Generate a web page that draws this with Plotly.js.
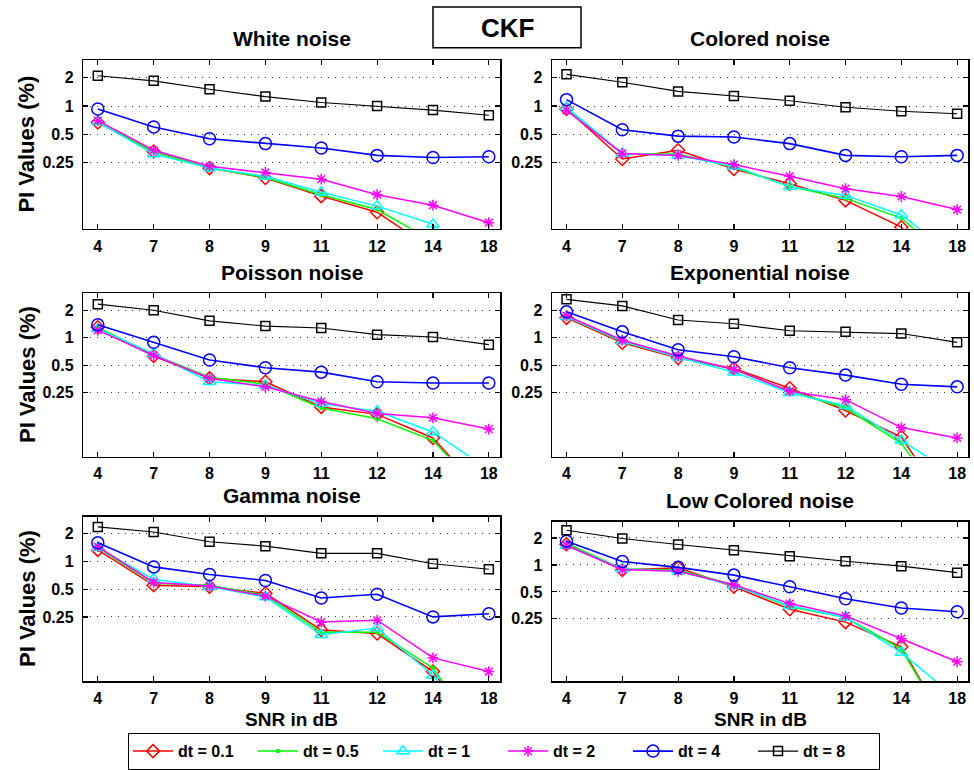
<!DOCTYPE html>
<html>
<head>
<meta charset="utf-8">
<script src="https://cdn.plot.ly/plotly-3.0.1.min.js"></script>
<style>html,body{margin:0;padding:0;background:#fff;} #chart{width:974px;height:770px;}</style>
</head>
<body>
<div id="chart"></div>
<script>
// ---------- DATA ----------
const categories = ['4', '7', '8', '9', '11', '12', '14', '18'];
const seriesNames = ['dt = 0.1', 'dt = 0.5', 'dt = 1', 'dt = 2', 'dt = 4', 'dt = 8'];
const panelTitles = ['White noise', 'Colored noise', 'Poisson noise', 'Exponential noise', 'Gamma noise', 'Low Colored noise'];
const mainTitle = 'CKF';
const yTitle = 'PI Values (%)';
const xTitle = 'SNR in dB';
const yTickVals = [0.25, 0.5, 1, 2];
const yTickText = ['0.25', '0.5', '1', '2'];

// White noise
const whiteDt01 = [0.67, 0.33, 0.22, 0.173, 0.111, 0.075, 0.030, 0.010];
const whiteDt05 = [0.67, 0.33, 0.22, 0.175, 0.115, 0.080, 0.037, 0.010];
const whiteDt1  = [0.68, 0.31, 0.22, 0.180, 0.122, 0.087, 0.056, 0.010];
const whiteDt2  = [0.70, 0.34, 0.23, 0.198, 0.168, 0.115, 0.089, 0.058];
const whiteDt4  = [0.93, 0.60, 0.45, 0.40, 0.36, 0.30, 0.285, 0.29];
const whiteDt8  = [2.10, 1.85, 1.51, 1.26, 1.09, 1.00, 0.906, 0.80];
// Colored noise
const colDt01 = [0.93, 0.275, 0.34, 0.215, 0.150, 0.100, 0.052, 0.010];
const colDt05 = [0.95, 0.31, 0.31, 0.225, 0.140, 0.105, 0.065, 0.020];
const colDt1  = [0.97, 0.315, 0.30, 0.230, 0.140, 0.113, 0.070, 0.025];
const colDt2  = [0.90, 0.315, 0.30, 0.240, 0.180, 0.133, 0.110, 0.080];
const colDt4  = [1.17, 0.56, 0.48, 0.47, 0.40, 0.30, 0.29, 0.30];
const colDt8  = [2.17, 1.79, 1.43, 1.28, 1.14, 0.97, 0.88, 0.83];
// Poisson noise
const poiDt01 = [1.30, 0.63, 0.36, 0.33, 0.175, 0.145, 0.080, 0.017];
const poiDt05 = [1.30, 0.65, 0.37, 0.31, 0.170, 0.130, 0.075, 0.017];
const poiDt1  = [1.25, 0.67, 0.33, 0.30, 0.190, 0.157, 0.093, 0.036];
const poiDt2  = [1.21, 0.64, 0.36, 0.29, 0.200, 0.148, 0.133, 0.100];
const poiDt4  = [1.39, 0.89, 0.57, 0.47, 0.42, 0.33, 0.32, 0.32];
const poiDt8  = [2.33, 2.00, 1.53, 1.34, 1.28, 1.08, 1.02, 0.84];
// Exponential noise
const expDt01 = [1.65, 0.88, 0.60, 0.46, 0.28, 0.16, 0.082, 0.010];
const expDt05 = [1.70, 0.90, 0.62, 0.45, 0.26, 0.17, 0.070, 0.010];
const expDt1  = [1.70, 0.92, 0.61, 0.42, 0.25, 0.18, 0.075, 0.031];
const expDt2  = [1.74, 0.94, 0.63, 0.45, 0.26, 0.21, 0.104, 0.080];
const expDt4  = [1.92, 1.16, 0.74, 0.62, 0.47, 0.39, 0.31, 0.29];
const expDt8  = [2.63, 2.23, 1.56, 1.42, 1.19, 1.16, 1.11, 0.89];
// Gamma noise
const gamDt01 = [1.33, 0.55, 0.53, 0.45, 0.18, 0.165, 0.064, 0.010];
const gamDt05 = [1.40, 0.58, 0.55, 0.43, 0.17, 0.170, 0.070, 0.010];
const gamDt1  = [1.40, 0.64, 0.53, 0.41, 0.16, 0.190, 0.058, 0.010];
const gamDt2  = [1.44, 0.59, 0.54, 0.42, 0.22, 0.230, 0.090, 0.064];
const gamDt4  = [1.59, 0.87, 0.72, 0.62, 0.40, 0.44, 0.25, 0.27];
const gamDt8  = [2.36, 2.08, 1.63, 1.46, 1.22, 1.22, 0.94, 0.82];
// Low Colored noise
const lowDt01 = [1.70, 0.88, 0.93, 0.57, 0.32, 0.23, 0.122, 0.010];
const lowDt05 = [1.75, 0.90, 0.88, 0.60, 0.34, 0.26, 0.115, 0.010];
const lowDt1  = [1.65, 0.90, 0.85, 0.59, 0.35, 0.26, 0.105, 0.032];
const lowDt2  = [1.65, 0.89, 0.85, 0.60, 0.37, 0.27, 0.150, 0.083];
const lowDt4  = [1.84, 1.09, 0.94, 0.77, 0.57, 0.42, 0.33, 0.30];
const lowDt8  = [2.44, 1.97, 1.69, 1.46, 1.25, 1.10, 0.97, 0.82];

const panelData = [
  [whiteDt01, whiteDt05, whiteDt1, whiteDt2, whiteDt4, whiteDt8],
  [colDt01, colDt05, colDt1, colDt2, colDt4, colDt8],
  [poiDt01, poiDt05, poiDt1, poiDt2, poiDt4, poiDt8],
  [expDt01, expDt05, expDt1, expDt2, expDt4, expDt8],
  [gamDt01, gamDt05, gamDt1, gamDt2, gamDt4, gamDt8],
  [lowDt01, lowDt05, lowDt1, lowDt2, lowDt4, lowDt8]
];

// ---------- STYLE ----------
const W = 974, H = 770;
const FONT = 'Arial, "Liberation Sans", Helvetica, sans-serif';
const styles = [
  {color: '#ff0000', symbol: 'diamond-open', size: 10, width: 1.5},
  {color: '#00ff00', symbol: 'circle', size: 3, width: 1.5},
  {color: '#00ffff', symbol: 'triangle-up-open', size: 11, width: 1.5},
  {color: '#ff00ff', symbol: 'asterisk-open', size: 9, width: 1.5},
  {color: '#0000ff', symbol: 'circle-open', size: 12, width: 1.6},
  {color: '#000000', symbol: 'square-open', size: 9, width: 1.1}
];
// panel boxes in pixels: [left, right, top, bottom]
const boxes = [
  [83.3, 500, 60.7, 230], [552, 968.3, 60.7, 230],
  [83.3, 500, 295, 459], [552, 968.3, 295, 459],
  [83.3, 500, 519.3, 685], [552, 968.3, 524.3, 685]
];
const px = v => v / W;
const py = v => 1 - v / H;

const traces = [];
const layout = {
  width: W, height: H,
  margin: {l: 0, r: 0, t: 0, b: 0},
  paper_bgcolor: '#ffffff', plot_bgcolor: '#ffffff',
  font: {family: FONT, color: '#000'},
  showlegend: true,
  legend: {
    orientation: 'h', x: px(128), xanchor: 'left', y: py(737), yanchor: 'top',
    bordercolor: '#000', borderwidth: 1.2, bgcolor: '#fff',
    font: {family: FONT, size: 16, weight: 'bold', color: '#000'},
    itemwidth: 40, entrywidth: 70, tracegroupgap: 0
  },
  annotations: [],
  shapes: []
};

panelData.forEach((series, p) => {
  const idx = p + 1;
  const xa = 'x' + (idx === 1 ? '' : idx);
  const ya = 'y' + (idx === 1 ? '' : idx);
  series.forEach((vals, s) => {
    const st = styles[s];
    traces.push({
      type: 'scatter', mode: 'lines+markers',
      x: categories, y: vals, xaxis: xa, yaxis: ya,
      name: seriesNames[s], showlegend: p === 0, legendgroup: seriesNames[s],
      line: {color: st.color, width: st.width},
      marker: {symbol: st.symbol, size: st.size, color: st.color, line: {color: st.color, width: 1.5}}
    });
  });
  const b = boxes[p];
  const axBase = {
    showline: true, mirror: 'ticks', linecolor: '#000', linewidth: 1.5,
    ticks: 'inside', ticklen: 5, tickwidth: 1.2, tickcolor: '#000',
    tickfont: {family: FONT, size: 16, weight: 'bold', color: '#000'},
    zeroline: false, fixedrange: true
  };
  layout['xaxis' + (idx === 1 ? '' : idx)] = Object.assign({}, axBase, {
    type: 'category', domain: [px(b[0]), px(b[1])], anchor: ya,
    range: [-0.26, 7.2], showgrid: false, ticklabelstandoff: 2
  });
  layout['yaxis' + (idx === 1 ? '' : idx)] = Object.assign({}, axBase, {
    type: 'log', domain: [py(b[3]), py(b[2])], anchor: xa,
    range: [Math.log10(0.05), Math.log10(3.05)],
    tickvals: yTickVals, ticktext: yTickText,
    showgrid: true, gridcolor: '#333', gridwidth: 1, griddash: '1px,6px',
    ticklabelstandoff: 5
  });
  // panel title
  layout.annotations.push({
    text: '<b>' + panelTitles[p] + '</b>', xref: 'paper', yref: 'paper',
    x: px((b[0] + b[1]) / 2), y: py(b[2] - 8), xanchor: 'center', yanchor: 'bottom',
    showarrow: false, font: {family: FONT, size: 21, color: '#000'}
  });
  if (p % 2 === 0) {
    layout.annotations.push({
      text: '<b>' + yTitle + '</b>', xref: 'paper', yref: 'paper', textangle: -90,
      x: px(27), y: py((b[2] + b[3]) / 2), xanchor: 'center', yanchor: 'middle',
      showarrow: false, font: {family: FONT, size: 22, color: '#000'}
    });
  }
  if (p >= 4) {
    layout.annotations.push({
      text: '<b>' + xTitle + '</b>', xref: 'paper', yref: 'paper',
      x: px((b[0] + b[1]) / 2), y: py(723), xanchor: 'center', yanchor: 'middle',
      showarrow: false, font: {family: FONT, size: 19, color: '#000'}
    });
  }
});

// main title box
layout.shapes.push({
  type: 'rect', xref: 'paper', yref: 'paper',
  x0: px(433), x1: px(581), y0: py(48), y1: py(7),
  line: {color: '#000', width: 1.5}, fillcolor: '#fff'
});
layout.annotations.push({
  text: '<b>' + mainTitle + '</b>', xref: 'paper', yref: 'paper',
  x: px(507), y: py(28), xanchor: 'center', yanchor: 'middle',
  showarrow: false, font: {family: FONT, size: 26, color: '#000'}
});

Plotly.newPlot('chart', traces, layout, {displayModeBar: false, staticPlot: true});
</script>
</body>
</html>
